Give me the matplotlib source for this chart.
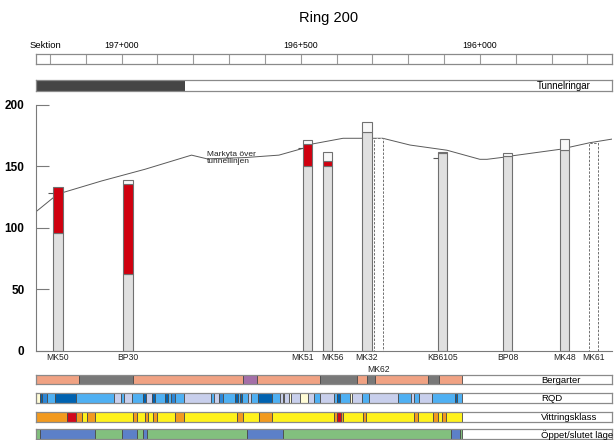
import matplotlib
matplotlib.use("Agg")
import matplotlib.pyplot as plt
import numpy as np

plt.rcParams['font.family'] = ['Liberation Sans', 'DejaVu Sans']

W, H = 615, 440

# sektion längs tunneln (m), avtagande åt höger
SEK_START, SEK_SLUT = 197240, 195632
sektion_etiketter = [197000, 196500, 196000]

# borrhål: sektion och längder (m) av berg, krossat berg och jord
borrhal = ['MK50', 'BP30', 'MK51', 'MK56', 'MK32', 'MK62', 'KB6105', 'BP08', 'MK48', 'MK61']
borr_sektion = [197178, 196982, 196481, 196425, 196315, 196283, 196105, 195922, 195764, 195682]
berg = [95.4, 62.4, 150.4, 150.4, 178.0, 0, 160.5, 158.5, 163.2, 0]
krossat = [37.4, 72.9, 17.9, 3.8, 0, 0, 1.0, 0, 0, 0]
jord = [0, 3.5, 2.7, 7.1, 7.7, 0, 0, 2.0, 8.7, 0]
planerad = [0, 0, 0, 0, 0, 172.7, 0, 0, 0, 168.6]
markniva = [128.5, np.nan, 164.5, np.nan, np.nan, np.nan, 156.4, np.nan, np.nan, np.nan]

# markyta över tunnellinjen
markyta_sektion = [197237, 197191, 197165, 197056, 196935, 196805, 196762, 196656, 196561,
                   196494, 196469, 196382, 196271, 196195, 196092, 196000, 195980, 195936,
                   195908, 195777, 195693, 195632]
markyta_niva = [113.5, 124.4, 128.5, 138.0, 147.5, 159.0, 156.0, 157.0, 159.0,
                164.5, 168.0, 172.7, 172.7, 167.2, 163.0, 155.6, 155.6, 157.2,
                158.5, 163.7, 169.1, 172.0]

# tunnelringar monterade
ring_fran, ring_till = 197240, 196826

# bergarter
bergart_granser = [197240, 197121, 196968, 196661, 196623, 196447, 196344, 196316, 196293,
                   196144, 196114, 196051]
bergart_kod = ['a', 'b', 'a', 'c', 'a', 'b', 'a', 'b', 'a', 'b', 'a']

# RQD
rqd_granser = [197240, 197230, 197223, 197209, 197186, 197128, 197023, 197003, 196994, 196972,
               196940, 196932, 196916, 196907, 196879, 196870, 196862, 196853, 196828, 196751,
               196744, 196730, 196719, 196684, 196675, 196670, 196664, 196647, 196640, 196619,
               196581, 196558, 196549, 196546, 196532, 196528, 196502, 196479, 196463, 196448,
               196409, 196400, 196391, 196363, 196356, 196330, 196310, 196228, 196193, 196184,
               196170, 196133, 196070, 196063, 196051]
rqd_kod = list('VDMBDBLBLBDLDBDBMBLBLMBDBDBLBDBLVLVLVLBLBDBVLBLBLBLBDB')

# vittringsklass
vittring_granser = [197240, 197154, 197128, 197112, 197098, 197076, 196968, 196958, 196935,
                    196926, 196912, 196902, 196851, 196828, 196679, 196662, 196616, 196580,
                    196407, 196400, 196389, 196383, 196328, 196319, 196184, 196174, 196130,
                    196116, 196105, 196096, 196051]
vittring_klass = [2, 3, 2, 1, 2, 1, 2, 1, 2, 1, 2, 1, 2, 1, 2, 1, 2, 1, 2, 3,
                  2, 1, 2, 1, 2, 1, 2, 1, 2, 1]

# öppet/slutet läge
lage_granser = [197240, 197228, 197076, 197000, 196958, 196942, 196929, 196650, 196551,
                196081, 196056, 196051]
lage_kod = ['s', 'o', 's', 'o', 's', 'o', 's', 'o', 's', 'o', 's']

farg_bergart = {'a': '#F0A283', 'b': '#787878', 'c': '#A46FA8'}
farg_rqd = {'V': '#FFFCD6', 'L': '#C8CFEC', 'B': '#4FB0F3', 'M': '#2C86D6', 'D': '#0062B0'}
farg_vittring = {1: '#FFF21C', 2: '#F29A1F', 3: '#D2081C'}
farg_lage = {'s': '#82C07E', 'o': '#5C80C8'}

KANT = '#8A8A8A'


def fig_ax(left, top, right, bottom):
    return fig.add_axes([left / W, 1 - bottom / H, (right - left) / W, (bottom - top) / H])


def ram(ax):
    ax.set_xticks([])
    ax.set_yticks([])
    for s in ax.spines.values():
        s.set_color(KANT)
        s.set_linewidth(0.9)


def remsa(top, bottom, granser, koder, farger, etikett):
    ax = fig_ax(36, top, 611.7, bottom)
    ax.set_xlim(SEK_START, SEK_SLUT)
    ax.set_ylim(0, 1)
    g = np.array(granser, dtype=float)
    ax.barh(0.5, np.diff(g), left=g[:-1], height=1.0,
            color=[farger[k] for k in koder], edgecolor='#4A4A4A', linewidth=0.6)
    ax.text(0.877, 0.45, etikett, transform=ax.transAxes, ha='left', va='center', fontsize=6.8)
    ram(ax)
    return ax


fig = plt.figure(figsize=(W / 100, H / 100), dpi=100)

fig.text(329 / W, 1 - 18 / H, 'Ring 200', ha='center', va='center', fontsize=10.5)

# sektionslinjal
ax_sek = fig_ax(35.7, 54.3, 611.7, 63.8)
ax_sek.set_xlim(SEK_START, SEK_SLUT)
ax_sek.set_ylim(0, 1)
ax_sek.vlines(np.arange(197200, SEK_SLUT, -100), 0, 1, color='#9A9A9A', linewidth=0.8)
ram(ax_sek)
for s in sektion_etiketter:
    ax_sek.text(s, 1.9, f'{s // 1000}+{s % 1000:03d}', ha='center', va='center', fontsize=6.3)
fig.text(29.5 / W, 1 - 45.7 / H, 'Sektion', ha='left', va='center', fontsize=6.8)

# tunnelringar
ax_ring = fig_ax(35.7, 80, 611.7, 91)
ax_ring.set_xlim(SEK_START, SEK_SLUT)
ax_ring.set_ylim(0, 1)
ax_ring.barh(0.5, ring_till - ring_fran, left=ring_fran, height=1.0,
             color='#454545', edgecolor='#333333', linewidth=0.6)
ax_ring.text(0.870, 0.45, 'Tunnelringar', transform=ax_ring.transAxes,
             ha='left', va='center', fontsize=7)
ram(ax_ring)

# huvuddiagram
ax = fig_ax(35.7, 104.7, 611.7, 350.7)
ax.set_xlim(SEK_START, SEK_SLUT)
ax.set_ylim(0, 200)
ax.set_yticks([0, 50, 100, 150, 200])
ax.set_xticks([])
ax.tick_params(axis='y', direction='in', length=9.5, width=0.8, color='#7A7A7A',
               labelsize=8.5, pad=8)
for lbl in ax.get_yticklabels():
    lbl.set_fontweight('bold')
for s in ['top', 'right']:
    ax.spines[s].set_visible(False)
for s in ['left', 'bottom']:
    ax.spines[s].set_color('#7A7A7A')
    ax.spines[s].set_linewidth(0.8)

ax.plot(markyta_sektion, markyta_niva, color='#5A5A5A', linewidth=0.7, zorder=1)
ax.text(196762, 156.5, 'Markyta över\ntunnellinjen', fontsize=6, ha='left', va='center',
        linespacing=1.0, color='#222222', zorder=1)

bredd = 26
x = np.array(borr_sektion, dtype=float)
b = np.array(berg)
k = np.array(krossat)
j = np.array(jord)
p = np.array(planerad)
har_karna = b > 0

ax.bar(x[har_karna], b[har_karna], width=bredd, color='#E0E0E0', edgecolor='#707070',
       linewidth=0.8, zorder=2)
m = k > 0
ax.bar(x[m], k[m], bottom=b[m], width=bredd, color='#D0000F', edgecolor='#707070',
       linewidth=0.8, zorder=2)
m = j > 0
ax.bar(x[m], j[m], bottom=(b + k)[m], width=bredd, color='#F8F8F8', edgecolor='#707070',
       linewidth=0.8, zorder=2)
m = p > 0
ax.bar(x[m], p[m], width=bredd, color='white', edgecolor='#707070', linewidth=0.7,
       linestyle=(0, (2.5, 1.5)), zorder=2)

mk = ~np.isnan(markniva)
ax.hlines(np.array(markniva)[mk], x[mk] + bredd / 2, x[mk] + bredd / 2 + 14,
          color='#555555', linewidth=0.8, zorder=3)

# etiketter under borrhålen: mycket tätt -> ny rad, tätt -> skjut isär
dx = np.zeros(len(x))
rad = np.zeros(len(x))
for i in range(1, len(x)):
    avst = abs(x[i - 1] - x[i])
    if avst < 40:
        rad[i] = 1
    elif avst < 70:
        dx[i - 1] -= 3.5
        dx[i] += 3.5
for namn, xs, ox, r in zip(borrhal, x, dx, rad):
    ax.annotate(namn, (xs, 0), xytext=(ox, -4.8 - 8.5 * r), textcoords='offset points',
                ha='center', va='center', fontsize=6.2, color='#222222', annotation_clip=False)

# geologiska remsor
remsa(375, 384.3, bergart_granser, bergart_kod, farg_bergart, 'Bergarter')
remsa(393.3, 403.3, rqd_granser, rqd_kod, farg_rqd, 'RQD')
remsa(411.7, 421.7, vittring_granser, vittring_klass, farg_vittring, 'Vittringsklass')
remsa(429.3, 439, lage_granser, lage_kod, farg_lage, 'Öppet/slutet läge')

fig.savefig('out.png', dpi=100)
